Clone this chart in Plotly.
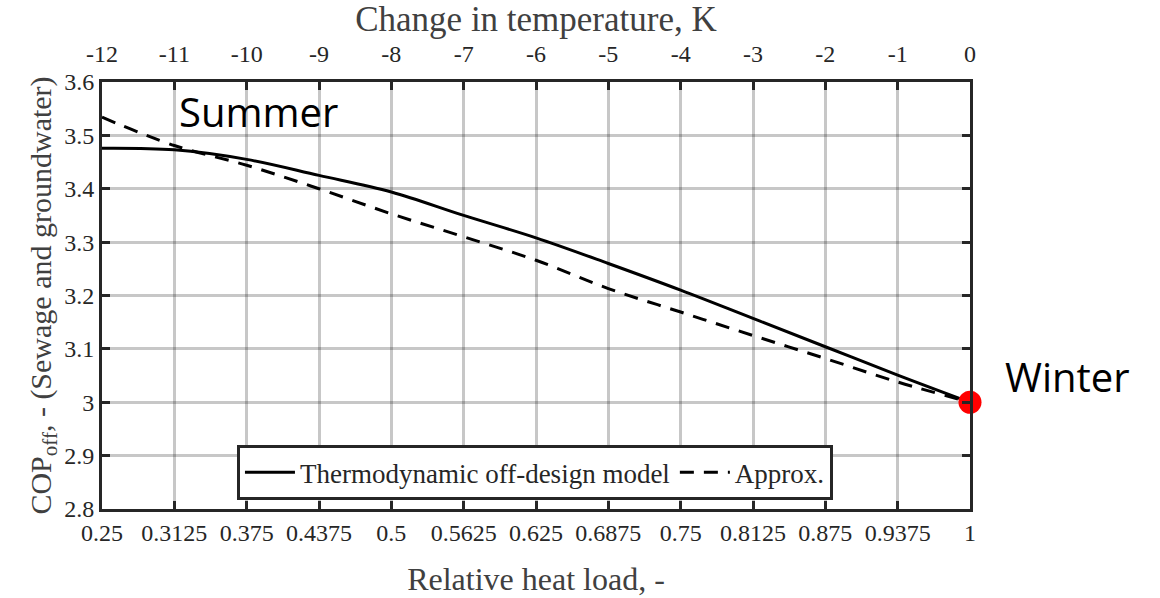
import plotly.graph_objects as go

# Data
heat_load = [0.25, 0.3125, 0.375, 0.4375, 0.5, 0.5625, 0.625, 0.6875, 0.75, 0.8125, 0.875, 0.9375, 1.0]
x_tick_text = ["0.25", "0.3125", "0.375", "0.4375", "0.5", "0.5625", "0.625", "0.6875", "0.75", "0.8125", "0.875", "0.9375", "1"]
temp_change = [-12, -11, -10, -9, -8, -7, -6, -5, -4, -3, -2, -1, 0]
temp_tick_text = ["-12", "-11", "-10", "-9", "-8", "-7", "-6", "-5", "-4", "-3", "-2", "-1", "0"]
cop_thermo = [3.476, 3.473, 3.455, 3.425, 3.394, 3.350, 3.308, 3.260, 3.210, 3.157, 3.104, 3.051, 3.0]
cop_approx = [3.534, 3.481, 3.444, 3.400, 3.353, 3.310, 3.266, 3.213, 3.169, 3.125, 3.082, 3.038, 3.0]
y_ticks = [2.8, 2.9, 3.0, 3.1, 3.2, 3.3, 3.4, 3.5, 3.6]
y_tick_text = ["2.8", "2.9", "3", "3.1", "3.2", "3.3", "3.4", "3.5", "3.6"]
winter_point = (1.0, 3.0)

SERIF = "Liberation Serif, DejaVu Serif, serif"
SANS = "Open Sans, Noto Sans, sans-serif"
DARK = "#262626"
TITLE = "#404040"
GRID = "rgba(0,0,0,0.22)"

fig = go.Figure()
fig.add_trace(go.Scatter(x=heat_load, y=cop_thermo, mode="lines",
                         line=dict(color="black", width=3, shape="spline"),
                         name="Thermodynamic off-design model"))
fig.add_trace(go.Scatter(x=heat_load, y=cop_approx, mode="lines",
                         line=dict(color="black", width=3, dash="14px,10px", shape="spline"),
                         name="Approx."))
fig.add_trace(go.Scatter(x=[winter_point[0]], y=[winter_point[1]], mode="markers",
                         marker=dict(color="red", size=23), showlegend=False, cliponaxis=False))
# invisible trace to activate top axis
fig.add_trace(go.Scatter(x=temp_change, y=[None] * len(temp_change), xaxis="x2", yaxis="y",
                         mode="lines", showlegend=False, hoverinfo="skip"))

fig.update_layout(
    width=1160, height=598,
    margin=dict(l=102, r=190, t=82, b=89, autoexpand=False),
    paper_bgcolor="white", plot_bgcolor="white",
    font=dict(family=SERIF, size=24, color=DARK),
    xaxis=dict(range=[0.25, 1.0], tickvals=heat_load, ticktext=x_tick_text,
               showgrid=True, gridcolor=GRID, gridwidth=3,
               ticks="inside", ticklen=8, tickwidth=3, tickcolor=DARK,
               showline=True, linecolor=DARK, linewidth=3, mirror=False,
               zeroline=False, tickfont=dict(size=24, color=DARK), automargin=False,
               title=dict(text="Relative heat load, -", font=dict(size=32, color=TITLE), standoff=23)),
    xaxis2=dict(range=[-12, 0], tickvals=temp_change, ticktext=temp_tick_text, overlaying="x", side="top",
                showgrid=False, ticks="inside", ticklen=8, tickwidth=3, tickcolor=DARK,
                showline=True, linecolor=DARK, linewidth=3, zeroline=False, automargin=False,
                tickfont=dict(size=24, color=DARK), ticklabelstandoff=7,
                title=dict(text="Change in temperature, K", font=dict(size=35, color=TITLE), standoff=4)),
    yaxis=dict(range=[2.8, 3.6], tickvals=y_ticks, ticktext=y_tick_text,
               showgrid=True, gridcolor=GRID, gridwidth=3,
               ticks="inside", ticklen=8, tickwidth=3, tickcolor=DARK,
               showline=True, linecolor=DARK, linewidth=3, mirror="ticks",
               zeroline=False, tickfont=dict(size=24, color=DARK), automargin=False,
               title=dict(text="COP<sub>off</sub>, - (Sewage and groundwater)",
                          font=dict(size=30, color=TITLE), standoff=4)),
    legend=dict(orientation="h", x=0.4988, y=0.085, xanchor="center", yanchor="middle",
                bgcolor="white", bordercolor=DARK, borderwidth=3,
                font=dict(family=SERIF, size=27, color=DARK), itemwidth=50,
                tracegroupgap=0),
    annotations=[
        dict(text="Summer", xref="paper", yref="paper", x=0.18, y=0.93,
             xanchor="center", yanchor="middle", showarrow=False,
             font=dict(family=SANS, size=40, color="black")),
        dict(text="Winter", xref="paper", yref="y", x=1.112, y=3.049,
             xanchor="center", yanchor="middle", showarrow=False,
             font=dict(family=SANS, size=40, color="black")),
    ],
)

fig.write_html("out.html")
